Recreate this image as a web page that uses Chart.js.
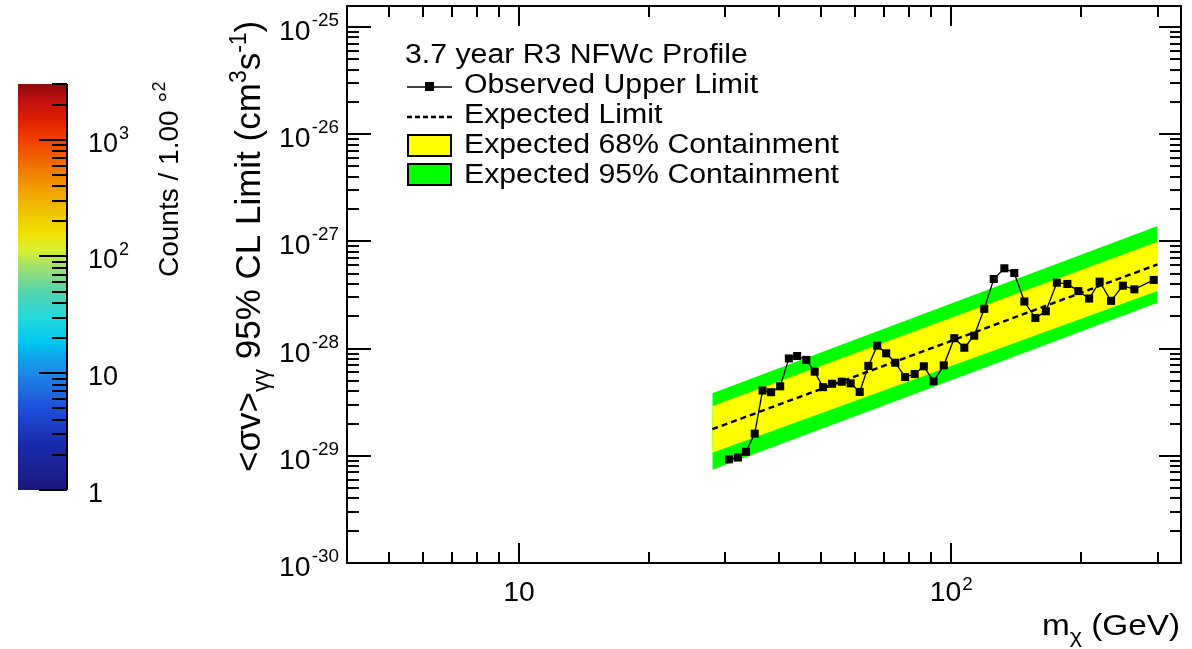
<!DOCTYPE html>
<html>
<head>
<meta charset="utf-8">
<title>Gamma-ray line limits</title>
<script src="https://cdn.jsdelivr.net/npm/chart.js@4.4.1/dist/chart.umd.min.js"></script>
<style>
  html, body { margin: 0; padding: 0; background: #ffffff; }
  #page { position: relative; width: 1192px; height: 649px; overflow: hidden; background: #ffffff; }
  #cbBox { position: absolute; left: 0; top: 0; width: 220px; height: 649px; }
  #mainBox { position: absolute; left: 220px; top: 0; width: 972px; height: 649px; }
</style>
</head>
<body>
<div id="page">
  <div id="cbBox"><canvas id="cb" width="220" height="649"></canvas></div>
  <div id="mainBox"><canvas id="main" width="972" height="649"></canvas></div>
</div>
<script>
// ---- data -----------------------------------------------------------------
// dark-matter mass (GeV) and observed 95% CL upper limit on <sigma v> (cm^3 s^-1)
const massObs = [30.6, 32.1, 33.5, 35.1, 36.6, 38.3, 40.2, 42.1, 44.0, 46.2,
                 48.3, 50.5, 53.0, 55.8, 58.5, 61.4, 64.3, 67.4, 70.7, 74.2,
                 78.2, 82.3, 86.4, 91.0, 96.1, 101.6, 107.2, 113.0, 119.2, 125.4,
                 132.7, 139.9, 147.6, 156.5, 165.5, 175.5, 185.6, 196.8, 208.4, 220.4,
                 234.2, 249.5, 265.2, 294.0];
const limitObs = [9.27e-30, 9.64e-30, 1.09e-29, 1.61e-29, 4.06e-29, 3.92e-29, 4.45e-29, 8.09e-29, 8.53e-29, 7.84e-29,
                  6.10e-29, 4.37e-29, 4.70e-29, 4.91e-29, 4.74e-29, 3.94e-29, 6.89e-29, 1.065e-28, 9.04e-29, 7.38e-29,
                  5.43e-29, 5.79e-29, 6.84e-29, 4.95e-29, 6.98e-29, 1.25e-28, 1.02e-28, 1.32e-28, 2.35e-28, 4.46e-28,
                  5.61e-28, 5.07e-28, 2.75e-28, 1.93e-28, 2.23e-28, 4.12e-28, 4.01e-28, 3.44e-28, 2.93e-28, 4.21e-28,
                  2.79e-28, 3.86e-28, 3.57e-28, 4.37e-28];

// expected limit and its containment bands
const bandMass  = [28, 100, 300];
const expLimit  = [1.77e-29, 1.18e-28, 6.10e-28];
const band68Hi  = [2.92e-29, 1.94e-28, 9.90e-28];
const band68Lo  = [1.07e-29, 6.90e-29, 3.44e-28];
const band95Hi  = [3.83e-29, 2.63e-28, 1.39e-27];
const band95Lo  = [7.40e-30, 5.07e-29, 2.68e-28];

// axis ranges and tick labels
const xRange = [4, 340];
const yRange = [1e-30, 1.57e-25];
const xTickValues = [10, 100];
const xTickExps   = ['', '2'];
const yTickValues = [1e-30, 1e-29, 1e-28, 1e-27, 1e-26, 1e-25];
const yTickExps   = ['-30', '-29', '-28', '-27', '-26', '-25'];

// colour scale (counts per 1.00 deg^2)
const cbRange = [1, 3000];
const cbTickValues = [1, 10, 100, 1000];
const cbTickBases  = ['1', '10', '10', '10'];
const cbTickExps   = ['', '', '2', '3'];

const legendTitle = '3.7 year R3 NFWc Profile';
const legendLabels = ['Observed Upper Limit', 'Expected Limit',
                      'Expected 68% Containment', 'Expected 95% Containment'];

// ---- helpers --------------------------------------------------------------
const FAMILY = '"Liberation Sans", Arial, Helvetica, sans-serif';
const font = px => px + 'px ' + FAMILY;

function pts(xs, ys) { return xs.map((x, i) => ({ x: x, y: ys[i] })); }

// draws a run of text pieces [{t, size, dy}] starting at (x, y) on the baseline;
// sx widens the glyphs horizontally
function drawRun(ctx, pieces, x, y, align, sx) {
  sx = sx || 1;
  let total = 0;
  pieces.forEach(p => { ctx.font = font(p.size); p.w = ctx.measureText(p.t).width; total += p.w + (p.gap || 0); });
  const x0 = align === 'right' ? x - total * sx : align === 'center' ? x - total * sx / 2 : x;
  ctx.save();
  ctx.translate(x0, y);
  ctx.scale(sx, 1);
  ctx.textAlign = 'left';
  ctx.textBaseline = 'alphabetic';
  let cx = 0;
  pieces.forEach(p => {
    ctx.font = font(p.size);
    ctx.fillText(p.t, cx + (p.gap || 0), p.dy || 0);
    cx += p.w + (p.gap || 0);
  });
  ctx.restore();
  return total * sx;
}

function powerPieces(base, exp, size, supSize, rise) {
  const out = [{ t: base, size: size }];
  if (exp) out.push({ t: exp, size: supSize, dy: -rise, gap: 1 });
  return out;
}

// ---- main chart: frame, inward ticks, labels, legend ------------------------
const axesPlugin = {
  id: 'rootStyleAxes',
  afterDatasetsDraw(chart) {
    const { ctx, chartArea: a, scales } = chart;
    const xs = scales.x, ys = scales.y;
    ctx.save();
    ctx.strokeStyle = '#000';
    ctx.fillStyle = '#000';
    ctx.lineWidth = 2;

    ctx.beginPath();
    for (let d = 0; d <= 3; d++) {
      for (let m = 1; m <= 9; m++) {
        const v = m * Math.pow(10, d);
        if (v < xs.min * 0.999 || v > xs.max * 1.001) continue;
        const px = Math.round(xs.getPixelForValue(v));
        const len = m === 1 ? 20 : 11;
        ctx.moveTo(px, a.bottom); ctx.lineTo(px, a.bottom - len);
        ctx.moveTo(px, a.top); ctx.lineTo(px, a.top + len);
      }
    }
    for (let d = -30; d <= -25; d++) {
      for (let m = 1; m <= 9; m++) {
        const v = m * Math.pow(10, d);
        if (v < ys.min * 0.999 || v > ys.max * 1.001) continue;
        const py = Math.round(ys.getPixelForValue(v));
        ctx.moveTo(a.left, py); ctx.lineTo(a.left + (m === 1 ? 24 : 12), py);
        ctx.moveTo(a.right, py); ctx.lineTo(a.right - (m === 1 ? 22 : 11), py);
      }
    }
    ctx.stroke();
    ctx.strokeRect(a.left, a.top, a.right - a.left, a.bottom - a.top);

    // tick labels
    yTickValues.forEach((v, i) => {
      const py = ys.getPixelForValue(v);
      drawRun(ctx, powerPieces('10', yTickExps[i], 27, 18, 14), a.left - 8, py + 13, 'right', 1.05);
    });
    xTickValues.forEach((v, i) => {
      const px = xs.getPixelForValue(v);
      drawRun(ctx, powerPieces('10', xTickExps[i], 27, 18, 11), px, a.bottom + 38, 'center', 1.05);
    });

    // x title
    drawRun(ctx, [{ t: 'm', size: 30 }, { t: '\u03C7', size: 21, dy: 8 }, { t: ' (GeV)', size: 30 }],
            a.right - 1, 635, 'right', 1.11);

    // y title (rotated, reads bottom to top)
    ctx.save();
    ctx.translate(a.left - 87, 472);
    ctx.rotate(-Math.PI / 2);
    drawRun(ctx, [
      { t: '<\u03C3v>', size: 35 },
      { t: '\u03B3\u03B3', size: 23, dy: 9 },
      { t: ' 95% CL Limit (cm', size: 35 },
      { t: '3', size: 23, dy: -14 },
      { t: 's', size: 35 },
      { t: '-1', size: 23, dy: -14 },
      { t: ')', size: 35 }
    ], 0, 0, 'left');
    ctx.restore();

    // legend
    const lx = a.left + 58, tx = a.left + 117;
    const LS = 27, LX = 1.12;
    drawRun(ctx, [{ t: legendTitle, size: LS }], lx, 63, 'left', LX);
    // observed: line with square marker
    ctx.lineWidth = 1.5;
    ctx.beginPath(); ctx.moveTo(lx + 2, 87); ctx.lineTo(lx + 47, 87); ctx.stroke();
    ctx.fillRect(lx + 20, 82, 9, 9);
    drawRun(ctx, [{ t: legendLabels[0], size: LS }], tx, 93, 'left', LX);
    // expected: dashed
    ctx.lineWidth = 2.4;
    ctx.setLineDash([5, 3]);
    ctx.beginPath(); ctx.moveTo(lx + 2, 117); ctx.lineTo(lx + 48, 117); ctx.stroke();
    ctx.setLineDash([]);
    drawRun(ctx, [{ t: legendLabels[1], size: LS }], tx, 123, 'left', LX);
    // band boxes
    ctx.lineWidth = 2;
    ctx.fillStyle = '#ffff00';
    ctx.fillRect(lx + 3, 135, 43, 21);
    ctx.strokeRect(lx + 3, 135, 43, 21);
    ctx.fillStyle = '#00ff00';
    ctx.fillRect(lx + 3, 164, 43, 21);
    ctx.strokeRect(lx + 3, 164, 43, 21);
    ctx.fillStyle = '#000';
    drawRun(ctx, [{ t: legendLabels[2], size: LS }], tx, 153, 'left', LX);
    drawRun(ctx, [{ t: legendLabels[3], size: LS }], tx, 183, 'left', LX);

    ctx.restore();
  }
};

const clear = 'rgba(0,0,0,0)';
new Chart(document.getElementById('main'), {
  type: 'line',
  data: {
    datasets: [
      { label: 'observed', data: pts(massObs, limitObs), borderColor: '#000', borderWidth: 1.3,
        pointStyle: 'rect', pointRadius: 5.7, pointBackgroundColor: '#000', pointBorderColor: '#000',
        pointBorderWidth: 0, fill: false, tension: 0 },
      { label: 'expected', data: pts(bandMass, expLimit), borderColor: '#000', borderWidth: 2.4,
        borderDash: [6, 4], pointRadius: 0, fill: false, tension: 0 },
      { label: '68hi', data: pts(bandMass, band68Hi), borderColor: clear, borderWidth: 0,
        backgroundColor: '#ffff00', pointRadius: 0, fill: '+1', tension: 0 },
      { label: '68lo', data: pts(bandMass, band68Lo), borderColor: clear, borderWidth: 0,
        pointRadius: 0, fill: false, tension: 0 },
      { label: '95hi', data: pts(bandMass, band95Hi), borderColor: clear, borderWidth: 0,
        backgroundColor: '#00ff00', pointRadius: 0, fill: '+1', tension: 0 },
      { label: '95lo', data: pts(bandMass, band95Lo), borderColor: clear, borderWidth: 0,
        pointRadius: 0, fill: false, tension: 0 }
    ]
  },
  options: {
    responsive: false,
    animation: false,
    events: [],
    layout: { padding: { left: 127, right: 11, top: 6, bottom: 86 } },
    plugins: { legend: { display: false }, tooltip: { enabled: false } },
    scales: {
      x: { type: 'logarithmic', min: xRange[0], max: xRange[1], display: false },
      y: { type: 'logarithmic', min: yRange[0], max: yRange[1], display: false }
    }
  },
  plugins: [axesPlugin]
});

// ---- colour bar -------------------------------------------------------------
const cbStops = [
  [0.000, '#16167a'], [0.007, '#1a1a7c'], [0.116, '#1b2bb0'], [0.197, '#1d4ed8'],
  [0.278, '#2080e8'], [0.320, '#12a0ea'], [0.362, '#00c6f0'], [0.419, '#20d8e0'],
  [0.485, '#50d4b0'], [0.549, '#a0e070'], [0.591, '#d8f030'], [0.633, '#f0e000'],
  [0.690, '#f0c000'], [0.739, '#f0a000'], [0.780, '#f08000'], [0.820, '#f06000'],
  [0.862, '#f04000'], [0.911, '#e02000'], [0.961, '#c01010'], [1.000, '#8b0a0a']
];

const cbPlugin = {
  id: 'colourBarAxis',
  afterDatasetsDraw(chart) {
    const { ctx, chartArea: a, scales } = chart;
    const ys = scales.y;
    ctx.save();
    ctx.strokeStyle = '#000';
    ctx.fillStyle = '#000';
    ctx.lineWidth = 2;
    ctx.beginPath();
    ctx.moveTo(a.right, a.top); ctx.lineTo(a.right, a.bottom);
    for (let d = 0; d <= 3; d++) {
      for (let m = 1; m <= 9; m++) {
        const v = m * Math.pow(10, d);
        if (v < ys.min * 0.999 || v > ys.max * 1.001) continue;
        const py = Math.round(ys.getPixelForValue(v));
        ctx.moveTo(a.right, py); ctx.lineTo(a.right - (m === 1 ? 28 : 15), py);
      }
    }
    ctx.stroke();
    cbTickValues.forEach((v, i) => {
      const py = ys.getPixelForValue(v);
      drawRun(ctx, powerPieces(cbTickBases[i], cbTickExps[i], 27, 18, 13), a.right + 21, py + 12, 'left');
    });
    ctx.save();
    ctx.translate(178, 277);
    ctx.rotate(-Math.PI / 2);
    drawRun(ctx, [{ t: 'Counts / 1.00 \u00B0', size: 28 }, { t: '2', size: 18, dy: -13 }], 0, 0, 'left');
    ctx.restore();
    ctx.restore();
  }
};

new Chart(document.getElementById('cb'), {
  type: 'bar',
  data: {
    labels: [''],
    datasets: [{
      data: [cbRange],
      borderWidth: 0,
      barPercentage: 1,
      categoryPercentage: 1,
      backgroundColor: (c) => {
        const area = c.chart.chartArea;
        if (!area) return '#1a1a7c';
        const g = c.chart.ctx.createLinearGradient(0, area.bottom, 0, area.top);
        cbStops.forEach(s => g.addColorStop(s[0], s[1]));
        return g;
      }
    }]
  },
  options: {
    responsive: false,
    animation: false,
    events: [],
    layout: { padding: { left: 18, right: 153, top: 84, bottom: 159 } },
    plugins: { legend: { display: false }, tooltip: { enabled: false } },
    scales: {
      x: { display: false },
      y: { type: 'logarithmic', min: cbRange[0], max: cbRange[1], display: false }
    }
  },
  plugins: [cbPlugin]
});
</script>
</body>
</html>
